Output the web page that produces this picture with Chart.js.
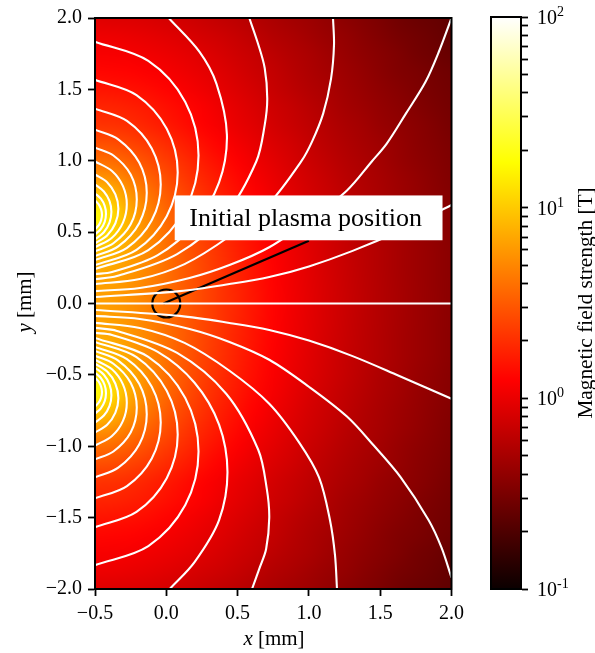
<!DOCTYPE html>
<html>
<head>
<meta charset="utf-8">
<style>
  html, body { margin: 0; padding: 0; background: #fff; }
  canvas { position: absolute; top: 0; }
  #main { left: 0; }
  #bar { left: 470px; }
</style>
<script src="https://cdn.jsdelivr.net/npm/chart.js@4/dist/chart.umd.js"></script>
</head>
<body>
<canvas id="main" width="470" height="653"></canvas>
<canvas id="bar" width="125" height="653"></canvas>
<script>
var xTicks = [-0.5, 0, 0.5, 1, 1.5, 2];
var yTicks = [-2, -1.5, -1, -0.5, 0, 0.5, 1, 1.5, 2];
var barTicks = [0.1, 0.2, 0.3, 0.4, 0.5, 0.6, 0.7, 0.8, 0.9, 1, 2, 3, 4, 5, 6, 7, 8, 9, 10, 20, 30, 40, 50, 60, 70, 80, 90, 100];
var barMajor = [0.1, 1, 10, 100];
var barPowers = ['-1', '0', '1', '2'];

// Field strength in tesla, top row is y = 2
var gridX = [-0.5, -0.375, -0.25, -0.125, 0, 0.125, 0.25, 0.375, 0.5, 0.625, 0.75, 0.875, 1, 1.125, 1.25, 1.375, 1.5, 1.625, 1.75, 1.875, 2];
var gridY = [2, 1.875, 1.75, 1.625, 1.5, 1.375, 1.25, 1.125, 1, 0.875, 0.75, 0.625, 0.5, 0.375, 0.25, 0.125, 0, -0.125, -0.25, -0.375, -0.5, -0.625, -0.75, -0.875, -1, -1.125, -1.25, -1.375, -1.5, -1.625, -1.75, -1.875, -2];
var fieldB = [
  [.90,.88,.87,.84,.80,.76,.71,.66,.62,.57,.52,.48,.45,.41,.38,.35,.32,.29,.27,.26,.24],
  [1.04,1.03,1.0,.96,.91,.86,.80,.75,.69,.63,.57,.53,.48,.44,.41,.37,.34,.31,.29,.27,.25],
  [1.16,1.15,1.12,1.08,1.02,.96,.89,.82,.75,.69,.62,.57,.52,.47,.43,.39,.36,.33,.30,.28,.26],
  [1.32,1.30,1.27,1.21,1.13,1.05,.97,.89,.81,.73,.67,.60,.54,.49,.45,.41,.37,.34,.32,.30,.28],
  [1.53,1.50,1.46,1.38,1.28,1.17,1.07,.96,.87,.78,.70,.63,.57,.52,.47,.43,.39,.36,.33,.31,.29],
  [1.80,1.78,1.70,1.59,1.45,1.32,1.19,1.06,.94,.84,.75,.68,.61,.55,.49,.45,.41,.38,.35,.32,.30],
  [2.09,2.05,1.93,1.77,1.59,1.42,1.26,1.12,.99,.89,.79,.71,.64,.58,.52,.48,.43,.40,.37,.34,.31],
  [2.77,2.69,2.47,2.19,1.91,1.66,1.44,1.26,1.10,.97,.86,.77,.68,.61,.55,.50,.46,.42,.38,.35,.32],
  [3.9,3.71,3.26,2.76,2.31,1.95,1.65,1.41,1.22,1.06,.93,.82,.73,.65,.58,.53,.48,.43,.39,.36,.33],
  [6.0,5.5,4.4,3.47,2.77,2.25,1.87,1.57,1.34,1.15,1.0,.88,.77,.69,.61,.55,.50,.45,.41,.37,.34],
  [10.7,8.6,5.9,4.27,3.25,2.56,2.08,1.72,1.45,1.24,1.07,.93,.81,.72,.64,.57,.51,.46,.42,.38,.35],
  [18.4,12,7.2,4.9,3.64,2.83,2.27,1.86,1.56,1.32,1.13,.98,.85,.75,.66,.59,.53,.48,.43,.39,.36],
  [13.8,10.8,7.3,5.2,3.88,3.02,2.42,1.98,1.64,1.39,1.18,1.02,.89,.78,.69,.61,.54,.49,.44,.40,.365],
  [9.4,8.4,6.6,5.1,3.96,3.13,2.52,2.06,1.71,1.44,1.22,1.05,.91,.80,.70,.62,.56,.50,.45,.41,.37],
  [7.44,7.0,6.0,4.9,3.94,3.18,2.58,2.12,1.76,1.48,1.26,1.08,.93,.81,.71,.63,.56,.50,.45,.41,.37],
  [6.61,6.33,5.62,4.75,3.91,3.19,2.61,2.14,1.78,1.50,1.27,1.09,.945,.823,.72,.638,.568,.509,.457,.414,.375],
  [6.41,6.16,5.52,4.71,3.91,3.2,2.62,2.16,1.80,1.51,1.28,1.10,.947,.825,.724,.64,.569,.51,.458,.415,.376],
  [6.61,6.33,5.62,4.75,3.91,3.19,2.61,2.14,1.78,1.50,1.27,1.09,.945,.823,.72,.638,.568,.509,.457,.414,.375],
  [7.44,7.0,6.0,4.9,3.94,3.18,2.58,2.12,1.76,1.48,1.26,1.08,.93,.81,.71,.63,.56,.50,.45,.41,.37],
  [9.4,8.4,6.6,5.1,3.96,3.13,2.52,2.06,1.71,1.44,1.22,1.05,.91,.80,.70,.62,.56,.50,.45,.41,.37],
  [13.8,10.8,7.3,5.2,3.88,3.02,2.42,1.98,1.64,1.39,1.18,1.02,.89,.78,.69,.61,.54,.49,.44,.40,.365],
  [18.4,12,7.2,4.9,3.64,2.83,2.27,1.86,1.56,1.32,1.13,.98,.85,.75,.66,.59,.53,.48,.43,.39,.36],
  [10.7,8.6,5.9,4.27,3.25,2.56,2.08,1.72,1.45,1.24,1.07,.93,.81,.72,.64,.57,.51,.46,.42,.38,.35],
  [6.0,5.5,4.4,3.47,2.77,2.25,1.87,1.57,1.34,1.15,1.0,.88,.77,.69,.61,.55,.50,.45,.41,.37,.34],
  [3.9,3.71,3.26,2.76,2.31,1.95,1.65,1.41,1.22,1.06,.93,.82,.73,.65,.58,.53,.48,.43,.39,.36,.33],
  [2.77,2.69,2.47,2.19,1.91,1.66,1.44,1.26,1.10,.97,.86,.77,.68,.61,.55,.50,.46,.42,.38,.35,.32],
  [2.09,2.05,1.93,1.77,1.59,1.42,1.26,1.12,.99,.89,.79,.71,.64,.58,.52,.48,.43,.40,.37,.34,.31],
  [1.80,1.78,1.70,1.59,1.45,1.32,1.19,1.06,.94,.84,.75,.68,.61,.55,.49,.45,.41,.38,.35,.32,.30],
  [1.53,1.50,1.46,1.38,1.28,1.17,1.07,.96,.87,.78,.70,.63,.57,.52,.47,.43,.39,.36,.33,.31,.29],
  [1.32,1.30,1.27,1.21,1.13,1.05,.97,.89,.81,.73,.67,.60,.54,.49,.45,.41,.37,.34,.32,.30,.28],
  [1.16,1.15,1.12,1.08,1.02,.96,.89,.82,.75,.69,.62,.57,.52,.47,.43,.39,.36,.33,.30,.28,.26],
  [1.04,1.03,1.0,.96,.91,.86,.80,.75,.69,.63,.57,.53,.48,.44,.41,.37,.34,.31,.29,.27,.25],
  [.90,.88,.87,.84,.80,.76,.71,.66,.62,.57,.52,.48,.45,.41,.38,.35,.32,.29,.27,.26,.24]
];

// White contours, each one read point by point as [x, y]
var contourMid = [[-0.5,0],[2,0]];
var contoursLow = [
  [[-.5,-.045],[.094,-.087],[.443,-.136],[.722,-.185],[1,-.26],[1.302,-.367],[1.63,-.506],[2,-.667]],
  [[-.5,-.087],[-.186,-.108],[.163,-.178],[.443,-.269],[.722,-.394],[1,-.583],[1.267,-.792],[1.455,-.995],[1.644,-1.218],[1.84,-1.518],[1.93,-1.71],[2,-1.92]],
  [[-.5,-.136],[-.186,-.171],[.128,-.276],[.443,-.471],[.722,-.702],[.932,-.974],[1.071,-1.218],[1.148,-1.518],[1.183,-1.763],[1.197,-2]],
  [[-.5,-.171],[-.346,-.192],[.076,-.346],[.42,-.632],[.644,-1.023],[.705,-1.3],[.722,-1.5],[.70,-1.72],[.655,-1.85],[.601,-2]],
  [[-.5,-.206],[-.381,-.22],[-.06,-.339],[.198,-.555],[.37,-.848],[.429,-1.183],[.37,-1.518],[.198,-1.812],[.024,-2]],
  [[-.5,-1.833],[-.126,-1.699],[.133,-1.412],[.226,-1.037],[.133,-.662],[-.126,-.374],[-.5,-.241]],
  [[-.5,-1.567],[-.209,-1.46],[.003,-1.224],[.08,-.918],[.003,-.612],[-.209,-.376],[-.5,-.269]],
  [[-.5,-1.365],[-.276,-1.279],[-.102,-1.086],[-.039,-.834],[-.102,-.583],[-.276,-.39],[-.5,-.304]],
  [[-.5,-1.218],[-.337,-1.15],[-.19,-.987],[-.137,-.775],[-.19,-.563],[-.337,-.4],[-.5,-.332]],
  [[-.5,-1.092],[-.371,-1.037],[-.25,-.904],[-.207,-.729],[-.25,-.555],[-.371,-.422],[-.5,-.366]],
  [[-.5,-.995],[-.381,-.928],[-.304,-.822],[-.277,-.695],[-.304,-.567],[-.381,-.461],[-.5,-.394]],
  [[-.5,-.904],[-.415,-.85],[-.357,-.764],[-.336,-.663],[-.357,-.562],[-.415,-.477],[-.5,-.422]],
  [[-.5,-.834],[-.438,-.785],[-.398,-.717],[-.385,-.642],[-.398,-.568],[-.438,-.499],[-.5,-.45]],
  [[-.5,-.771],[-.459,-.734],[-.432,-.684],[-.423,-.628],[-.432,-.572],[-.459,-.522],[-.5,-.485]],
  [[-.5,-.722],[-.473,-.693],[-.457,-.659],[-.451,-.621],[-.457,-.584],[-.473,-.549],[-.5,-.52]]
];
var contoursHigh = [
  [[-.5,.045],[.094,.087],[.443,.136],[.722,.185],[1,.26],[1.302,.367],[1.63,.506],[2,.69]],
  [[-.5,.087],[-.186,.108],[.163,.178],[.443,.269],[.722,.394],[1,.583],[1.267,.792],[1.441,.995],[1.546,1.12],[1.68,1.33],[1.818,1.553],[1.91,1.76],[2,2]],
  [[-.5,.136],[-.186,.171],[.128,.276],[.443,.471],[.722,.702],[.946,.995],[1.022,1.134],[1.10,1.33],[1.155,1.574],[1.176,1.811],[1.169,2]],
  [[-.5,.171],[-.346,.192],[.076,.346],[.42,.632],[.631,.995],[.69,1.25],[.708,1.434],[.69,1.65],[.64,1.83],[.582,2]],
  [[-.5,.206],[-.381,.22],[-.06,.339],[.198,.555],[.37,.848],[.425,1.183],[.352,1.539],[.233,1.763],[.017,2]],
  [[-.5,1.833],[-.126,1.699],[.133,1.412],[.226,1.037],[.133,.662],[-.126,.374],[-.5,.241]],
  [[-.5,1.567],[-.209,1.46],[.003,1.224],[.08,.918],[.003,.612],[-.209,.376],[-.5,.269]],
  [[-.5,1.365],[-.276,1.279],[-.102,1.086],[-.039,.834],[-.102,.583],[-.276,.39],[-.5,.304]],
  [[-.5,1.218],[-.337,1.15],[-.19,.987],[-.137,.775],[-.19,.563],[-.337,.4],[-.5,.332]],
  [[-.5,1.092],[-.371,1.037],[-.25,.904],[-.207,.729],[-.25,.555],[-.371,.422],[-.5,.366]],
  [[-.5,.995],[-.381,.928],[-.304,.822],[-.277,.695],[-.304,.567],[-.381,.461],[-.5,.394]],
  [[-.5,.904],[-.415,.85],[-.357,.764],[-.336,.663],[-.357,.562],[-.415,.477],[-.5,.422]],
  [[-.5,.834],[-.438,.785],[-.398,.717],[-.385,.642],[-.398,.568],[-.438,.499],[-.5,.45]],
  [[-.5,.771],[-.459,.734],[-.432,.684],[-.423,.628],[-.432,.572],[-.459,.522],[-.5,.485]],
  [[-.5,.722],[-.473,.693],[-.457,.659],[-.451,.621],[-.457,.584],[-.473,.549],[-.5,.52]]
];

var markerPoint = [[0,0]];
var markerLine = [[-.02,0],[1,.44]];
var noteBox = [.059, .757, 1.937, .443];
var noteText = 'Initial plasma position';

var hotPos = [0, .365, .746, 1];
var hotRGB = [[11,0,0],[255,0,0],[255,255,0],[255,255,255]];

Chart.defaults.font.family = '"Liberation Serif", serif';
Chart.defaults.font.size = 20;
Chart.defaults.color = '#000';

function toPoints(list) {
  return list.map(function(p) { return { x: p[0], y: p[1] }; });
}

function hotColor(t) {
  for (var i = 1; i < hotPos.length; i++) {
    if (t <= hotPos[i]) {
      var f = (t - hotPos[i-1]) / (hotPos[i] - hotPos[i-1]);
      return hotRGB[i].map(function(c, k) { return hotRGB[i-1][k] + (c - hotRGB[i-1][k]) * f; });
    }
  }
  return hotRGB[hotRGB.length - 1];
}

function tickLabel(v) {
  return v.toFixed(1).replace('-', '\u2212');
}

// Heat map: one pixel per grid value, scaled up to the scales' extent
var fieldPlugin = {
  id: 'field',
  beforeDatasetsDraw: function(chart) {
    var nx = gridX.length, ny = gridY.length;
    var off = document.createElement('canvas');
    off.width = nx; off.height = ny;
    var octx = off.getContext('2d');
    var img = octx.createImageData(nx, ny);
    for (var j = 0; j < ny; j++) {
      for (var i = 0; i < nx; i++) {
        var c = hotColor((Math.log10(fieldB[j][i]) + 1) / 3);
        var n = (j * nx + i) * 4;
        img.data[n] = c[0]; img.data[n+1] = c[1]; img.data[n+2] = c[2]; img.data[n+3] = 255;
      }
    }
    octx.putImageData(img, 0, 0);
    var left = chart.scales.x.getPixelForValue(gridX[0]);
    var right = chart.scales.x.getPixelForValue(gridX[nx-1]);
    var top = chart.scales.y.getPixelForValue(gridY[0]);
    var bottom = chart.scales.y.getPixelForValue(gridY[ny-1]);
    var ctx = chart.ctx;
    ctx.save();
    ctx.imageSmoothingEnabled = true;
    ctx.imageSmoothingQuality = 'high';
    ctx.drawImage(off, .5, .5, nx - 1, ny - 1, left, top, right - left, bottom - top);
    ctx.restore();
  }
};

var notePlugin = {
  id: 'note',
  afterDatasetsDraw: function(chart) {
    var ctx = chart.ctx, sx = chart.scales.x, sy = chart.scales.y;
    var x0 = sx.getPixelForValue(noteBox[0]), y0 = sy.getPixelForValue(noteBox[1]);
    var x1 = sx.getPixelForValue(noteBox[2]), y1 = sy.getPixelForValue(noteBox[3]);
    ctx.save();
    ctx.fillStyle = '#fff';
    ctx.fillRect(x0, y0, x1 - x0, y1 - y0);
    ctx.fillStyle = '#000';
    ctx.font = '26px "Liberation Serif"';
    ctx.textAlign = 'center';
    ctx.textBaseline = 'alphabetic';
    ctx.fillText(noteText, (x0 + x1) / 2 - 3, y0 + 31);
    ctx.restore();
  }
};

var framePlugin = {
  id: 'frame',
  afterDraw: function(chart) {
    var a = chart.chartArea, ctx = chart.ctx;
    ctx.save();
    ctx.strokeStyle = '#000';
    ctx.lineWidth = 2;
    ctx.strokeRect(a.left, a.top, a.right - a.left, a.bottom - a.top);
    ctx.restore();
  }
};

// Axis names, the variable letter is in italics
function axisName(ctx, letter, rest, x, y, rotate) {
  ctx.save();
  ctx.translate(x, y);
  if (rotate) ctx.rotate(-Math.PI / 2);
  ctx.fillStyle = '#000';
  ctx.textBaseline = 'middle';
  var italic = 'italic 21px "Liberation Serif"', plain = '21px "Liberation Serif"';
  ctx.font = italic;
  var w1 = ctx.measureText(letter).width;
  ctx.font = plain;
  var w2 = ctx.measureText(rest).width;
  var start = -(w1 + w2) / 2;
  ctx.font = italic;
  ctx.fillText(letter, start, 0);
  ctx.font = plain;
  ctx.fillText(rest, start + w1, 0);
  ctx.restore();
}

var namesPlugin = {
  id: 'names',
  afterDraw: function(chart) {
    axisName(chart.ctx, 'x', ' [mm]', 274, 639, false);
    axisName(chart.ctx, 'y', ' [mm]', 25, 302, true);
  }
};

var datasets = [];
contoursHigh.concat(contoursLow, [contourMid]).forEach(function(line) {
  datasets.push({
    data: toPoints(line), showLine: true, borderColor: '#fff', borderWidth: 2.1,
    pointRadius: 0, tension: .33, fill: false
  });
});
datasets.push({
  data: toPoints(markerLine), showLine: true, borderColor: '#000', borderWidth: 2.2, pointRadius: 0
});
datasets.push({
  data: toPoints(markerPoint), showLine: false, pointRadius: 14, pointBorderWidth: 2.2,
  pointBorderColor: '#000', pointBackgroundColor: 'transparent'
});

new Chart(document.getElementById('main'), {
  type: 'scatter',
  data: { datasets: datasets },
  options: {
    responsive: false, animation: false, devicePixelRatio: 1,
    layout: { padding: { left: 0, right: 17, top: 16, bottom: 0 } },
    plugins: { legend: { display: false }, tooltip: { enabled: false } },
    scales: {
      x: {
        type: 'linear', min: -0.5, max: 2,
        afterBuildTicks: function(s) { s.ticks = xTicks.map(function(v) { return { value: v }; }); },
        afterFit: function(s) { s.height = 64; },
        grid: { drawOnChartArea: false, tickLength: 7, tickColor: '#000', tickWidth: 1.8 },
        border: { color: '#000', width: 2 },
        ticks: { padding: 6, maxRotation: 0, autoSkip: false, callback: tickLabel }
      },
      y: {
        type: 'linear', min: -2, max: 2,
        afterBuildTicks: function(s) { s.ticks = yTicks.map(function(v) { return { value: v }; }); },
        afterFit: function(s) { s.width = 95; },
        grid: { drawOnChartArea: false, tickLength: 7, tickColor: '#000', tickWidth: 1.8 },
        border: { color: '#000', width: 2 },
        ticks: { padding: 6, autoSkip: false, callback: tickLabel }
      }
    }
  },
  plugins: [fieldPlugin, notePlugin, framePlugin, namesPlugin]
});

// Colour bar, one floating bar from the bottom to the top of the log scale
function barGradient(context) {
  var a = context.chart.chartArea;
  if (!a) return '#f00';
  var g = context.chart.ctx.createLinearGradient(0, a.bottom, 0, a.top);
  hotPos.forEach(function(p, i) { g.addColorStop(p, 'rgb(' + hotRGB[i].join(',') + ')'); });
  return g;
}

var barNamePlugin = {
  id: 'barName',
  afterDraw: function(chart) {
    var ctx = chart.ctx, sy = chart.scales.y;
    ctx.save();
    ctx.fillStyle = '#000';
    ctx.textBaseline = 'alphabetic';
    // Powers of ten, base and exponent in two sizes
    barMajor.forEach(function(v, i) {
      var py = sy.getPixelForValue(v) + 7;
      ctx.font = '20px "Liberation Serif"';
      ctx.fillText('10', 67, py);
      ctx.font = '14px "Liberation Serif"';
      ctx.fillText(barPowers[i], 87, py - 8);
    });
    ctx.translate(116, 303);
    ctx.rotate(-Math.PI / 2);
    ctx.font = '21.3px "Liberation Serif"';
    ctx.textAlign = 'center';
    ctx.textBaseline = 'middle';
    ctx.fillText('Magnetic field strength [T]', 0, 0);
    ctx.restore();
  }
};

new Chart(document.getElementById('bar'), {
  type: 'bar',
  data: {
    labels: ['B'],
    datasets: [{ data: [[0.1, 100]], backgroundColor: barGradient, barPercentage: 1, categoryPercentage: 1 }]
  },
  options: {
    responsive: false, animation: false, devicePixelRatio: 1,
    layout: { padding: { left: 21, right: 0, top: 17, bottom: 64 } },
    plugins: { legend: { display: false }, tooltip: { enabled: false } },
    scales: {
      x: { display: false },
      y: {
        type: 'logarithmic', position: 'right', min: 0.1, max: 100,
        afterBuildTicks: function(s) { s.ticks = barTicks.map(function(v) { return { value: v }; }); },
        afterFit: function(s) { s.width = 74; },
        grid: { drawOnChartArea: false, tickLength: 7, tickColor: '#000', tickWidth: 1.8 },
        border: { color: '#000', width: 2 },
        ticks: { display: false }
      }
    }
  },
  plugins: [framePlugin, barNamePlugin]
});
</script>
</body>
</html>
